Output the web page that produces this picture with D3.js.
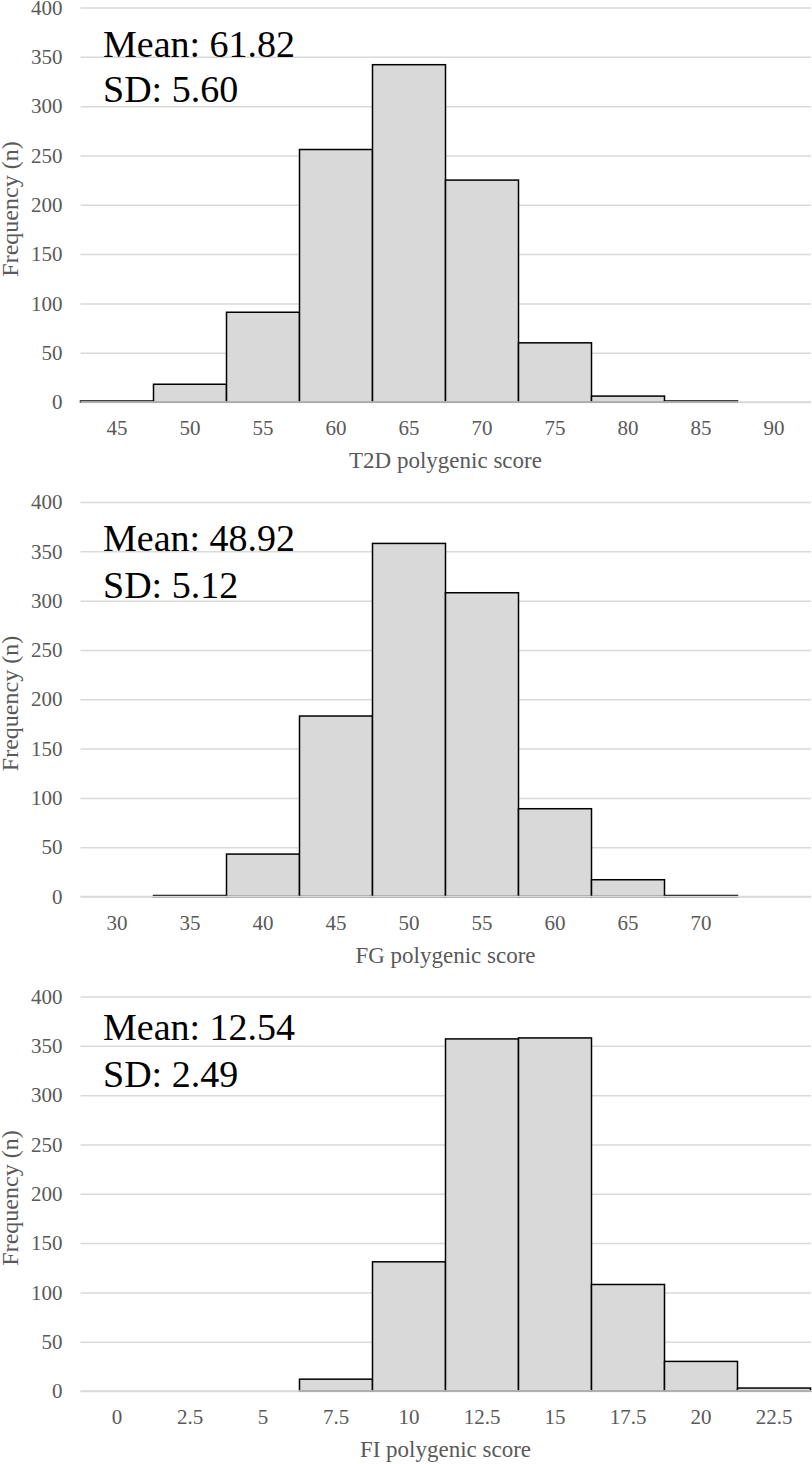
<!DOCTYPE html>
<html>
<head>
<meta charset="utf-8">
<script src="https://cdn.jsdelivr.net/npm/d3@7"></script>
<style>
  html, body { margin: 0; padding: 0; background: #fff; }
  svg { display: block; }
</style>
</head>
<body>
<svg id="chart" width="812" height="1464"></svg>
<script>
// ---- Data ----
const t2dCategories = ["45","50","55","60","65","70","75","80","85","90"];
const t2dCounts     = [1, 18, 91, 256, 342, 225, 60, 6, 1, 0];
const t2dStats      = ["Mean: 61.82", "SD: 5.60"];
const t2dTitle      = "T2D polygenic score";

const fgCategories  = ["30","35","40","45","50","55","60","65","70",""];
const fgCounts      = [0, 1, 43, 183, 358, 308, 89, 17, 1, 0];
const fgStats       = ["Mean: 48.92", "SD: 5.12"];
const fgTitle       = "FG polygenic score";

const fiCategories  = ["0","2.5","5","7.5","10","12.5","15","17.5","20","22.5"];
const fiCounts      = [0, 0, 0, 12, 131, 357, 358, 108, 30, 3];
const fiStats       = ["Mean: 12.54", "SD: 2.49"];
const fiTitle       = "FI polygenic score";

const yTicks = [0, 50, 100, 150, 200, 250, 300, 350, 400];
const yTitle = "Frequency (n)";

// ---- Layout ----
const panels = [
  { cats: t2dCategories, counts: t2dCounts, stats: t2dStats, title: t2dTitle, top: 0,     statY: [57, 102] },
  { cats: fgCategories,  counts: fgCounts,  stats: fgStats,  title: fgTitle,  top: 494.5, statY: [56.5, 103.5] },
  { cats: fiCategories,  counts: fiCounts,  stats: fiStats,  title: fiTitle,  top: 989,   statY: [51, 98] }
];
const plotLeft = 80.5, plotRight = 810.5, gridRight = 811;
const yTopOff = 7.5, yZeroOff = 402;
const font = "'Liberation Serif', 'Times New Roman', serif";
const gray = "#595959";

const svg = d3.select("#chart");

panels.forEach(p => {
  const g = svg.append("g").attr("transform", `translate(0,${p.top})`);
  const x = d3.scaleBand().domain(p.cats).range([plotLeft, plotRight]).padding(0);
  const y = d3.scaleLinear().domain([0, 400]).range([yZeroOff, yTopOff]);

  // gridlines + y tick labels
  const yAxis = d3.axisLeft(y).tickValues(yTicks).tickSize(-(gridRight - plotLeft)).tickPadding(18);
  const ya = g.append("g").attr("transform", `translate(${plotLeft},0)`).call(yAxis);
  ya.select(".domain").remove();
  ya.selectAll(".tick line").attr("stroke", "#d9d9d9").attr("stroke-width", 1.5);
  ya.selectAll(".tick text").attr("fill", gray).style("font-family", font).style("font-size", "21px");

  // bars
  const data = p.cats.map((c, i) => ({ c, v: p.counts[i] })).filter(d => d.v > 0);
  g.append("g").selectAll("rect").data(data).join("rect")
    .attr("x", d => x(d.c))
    .attr("width", x.bandwidth())
    .attr("y", d => y(d.v))
    .attr("height", d => y(0) - y(d.v))
    .attr("fill", "#d9d9d9")
    .attr("stroke", "#000")
    .attr("stroke-width", 1.5);

  // zero line over bar bottoms
  g.append("line")
    .attr("x1", plotLeft).attr("x2", gridRight)
    .attr("y1", y(0)).attr("y2", y(0))
    .attr("stroke", "#d9d9d9").attr("stroke-width", 1.5);

  // x axis labels
  const xAxis = d3.axisBottom(x).tickSize(0).tickPadding(0);
  const xa = g.append("g").attr("transform", `translate(0,${y(0)})`).call(xAxis);
  xa.select(".domain").remove();
  xa.selectAll(".tick text").attr("fill", gray).attr("y", 33).attr("dy", 0)
    .style("font-family", font).style("font-size", "21px");

  // x title
  g.append("text")
    .attr("x", (plotLeft + plotRight) / 2 + 0)
    .attr("y", y(0) + 66)
    .attr("text-anchor", "middle")
    .attr("fill", gray)
    .style("font-family", font).style("font-size", "23px")
    .text(p.title);

  // y title
  g.append("text")
    .attr("transform", `translate(18,${y(0) - 193}) rotate(-90)`)
    .attr("text-anchor", "middle")
    .attr("fill", gray)
    .style("font-family", font).style("font-size", "24px")
    .text(yTitle);

  // stats annotation
  p.stats.forEach((s, i) => {
    g.append("text")
      .attr("x", 103).attr("y", p.statY[i])
      .attr("fill", "#000")
      .style("font-family", font).style("font-size", "38px")
      .text(s);
  });
});
</script>
</body>
</html>
